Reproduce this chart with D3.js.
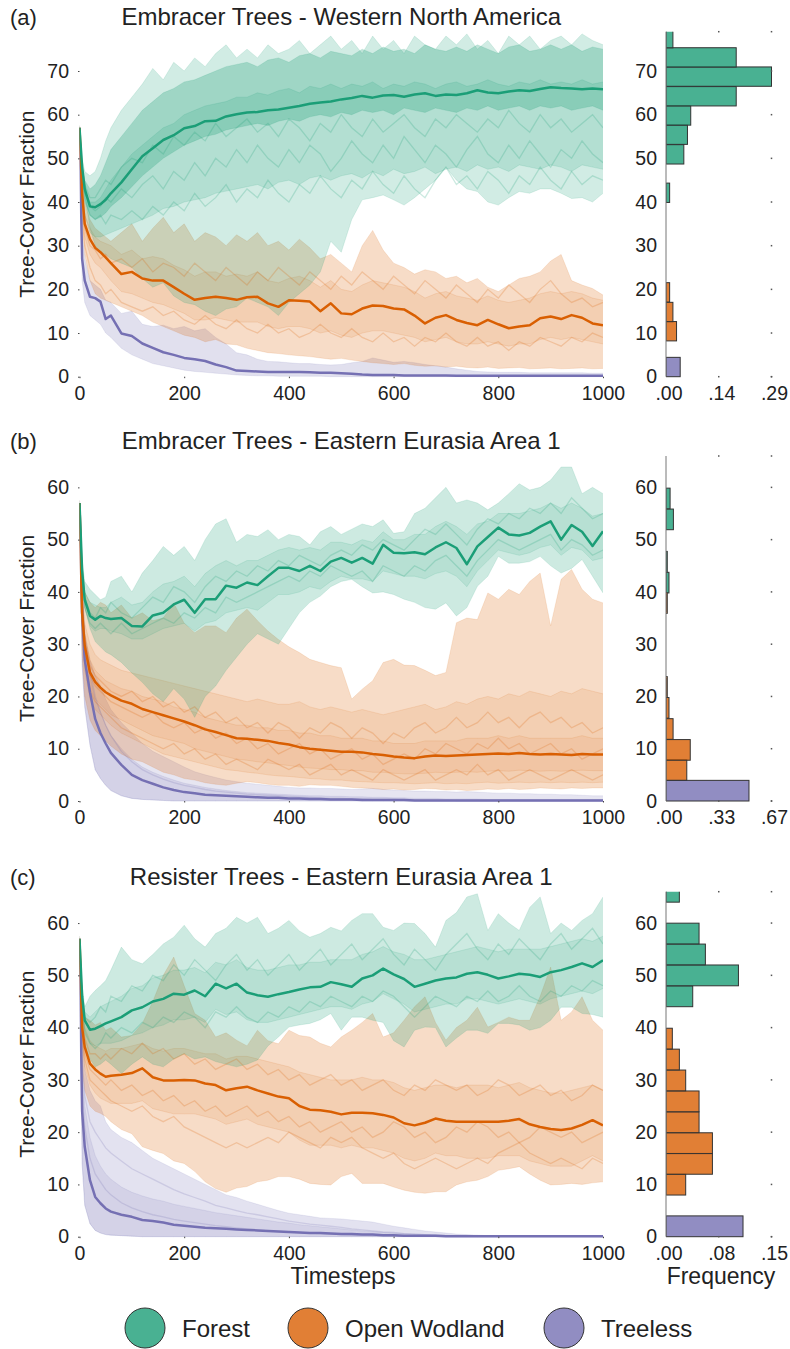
<!DOCTYPE html>
<html>
<head>
<meta charset="utf-8">
<script src="https://cdn.jsdelivr.net/npm/d3@7"></script>
<style>
  body { margin: 0; background: #fff; }
  text { font-family: "Liberation Sans", Arial, sans-serif; fill: #222; }
</style>
</head>
<body>
<svg width="790" height="1349"></svg>
<script>
const steps = [0, 5, 10, 20, 30, 40, 50, 60, 80, 100,
  120, 140, 160, 180, 200, 220, 240, 260, 280, 300,
  320, 340, 360, 380, 400, 420, 440, 460, 480, 500,
  520, 540, 560, 580, 600, 620, 640, 660, 680, 700,
  720, 740, 760, 780, 800, 820, 840, 860, 880, 900,
  920, 940, 960, 980, 1000];

const categories = ['Forest', 'Open Wodland', 'Treeless'];
const xTicks = [0, 200, 400, 600, 800, 1000];

// ---------- (a) Embracer Trees - Western North America ----------
const aForestMean = [57, 48, 43, 39, 38.8, 39.5, 40.5, 42, 44.5, 47.5,
  50.5, 52.3, 54.2, 55.3, 56.9, 57.4, 58.5, 58.6, 59.6, 60.1,
  60.5, 60.6, 61, 61.2, 61.6, 62, 62.5, 62.8, 63, 63.5,
  63.8, 64.3, 63.9, 64.4, 64.5, 64.1, 64.6, 64.9, 64.3, 64.6,
  64.5, 64.9, 65.6, 65.1, 64.9, 65.3, 65.6, 65.4, 65.9, 66.3,
  66.1, 66, 65.8, 66, 65.8];
const aForestOutHi = [57.5, 50, 47, 46, 47, 50, 54, 57, 61, 64,
  67, 70.6, 68, 72, 70, 73, 71, 74, 76, 73,
  75, 73, 76, 74, 75, 77, 74, 76, 78, 75,
  77, 74, 78, 75, 77, 74, 78, 76, 75, 78,
  76, 78.5, 75, 77, 74, 78, 76, 78, 75, 77,
  78, 76, 78.5, 77, 76];
const aForestOutLo = [57, 47, 42, 34, 30, 28.5, 28, 27, 26, 25,
  22.5, 20.5, 21.5, 18.5, 17, 16.5, 15, 14, 15.5, 16,
  18, 17, 16, 14, 17, 19, 21, 24, 31, 28.5,
  36, 40.5, 41, 41.6, 40.5, 39.3, 41, 43, 45, 48,
  45, 43, 42.4, 40, 39.3, 41, 42.4, 42, 43, 43,
  42, 40.8, 41, 40, 42];
const aForestMidHi = [57, 46, 42, 40, 40, 41, 43, 45, 48, 51,
  53, 55, 57, 58, 60, 61, 62, 62.5, 63, 64,
  64, 65, 64.5, 65.5, 66, 65, 66.5, 66, 67, 66,
  67, 66.5, 67.5, 66, 67, 66.5, 67.5, 67, 66, 67,
  67.5, 66.5, 67, 68, 67, 66.5, 67.5, 67, 68, 67,
  67.5, 67, 68, 67, 67.5];
const aForestMidLo = [57, 43, 37, 33, 32, 32, 32.5, 33, 34, 35,
  36, 37, 38.5, 39, 40, 40.5, 41, 42, 42.5, 43,
  43.5, 44, 43, 44.5, 45, 44, 45.5, 46, 45, 46,
  46.5, 45.5, 47, 46, 47.5, 46.5, 47, 48, 46.5, 47.5,
  48, 47, 48.5, 47.5, 48, 47, 48.5, 48, 47.5, 48.5,
  48, 47, 48.5, 48, 47.5];
const aForestCoreHi = [57, 49, 45, 43, 44, 46, 49, 52, 55, 58,
  61, 63, 65, 66, 67.5, 68, 69, 70, 71, 71.5,
  72, 71, 72.5, 73, 72, 73.5, 74, 73, 74.5, 74,
  73.5, 75, 74, 75.5, 74.5, 75, 74, 76, 75, 74.5,
  75.5, 74.5, 76, 75, 74, 75.5, 76, 74.5, 75, 76,
  75, 76, 74.5, 75.5, 75];
const aForestCoreLo = [57, 45, 40, 37, 36, 36.5, 37.5, 39, 41, 43.5,
  46, 48, 50, 51.5, 53, 54, 55, 55.5, 56.5, 57,
  57.5, 58, 57.5, 58.5, 59, 58.5, 59.5, 60, 59.5, 60.5,
  60, 61, 60.5, 61, 60, 61.5, 61, 60.5, 61.5, 61,
  60.5, 61.5, 61, 62, 61, 61.5, 62, 61, 62, 61.5,
  62, 61, 61.5, 62, 61];
// single runs drawn as faint lines
const aForestRun1 = [57, 47, 42, 39, 38, 39, 41, 40, 43, 41,
  44, 46, 43, 47, 45, 49, 46, 50, 48, 52,
  49, 53, 50, 48, 52, 49, 53, 51, 47, 50,
  54, 51, 49, 53, 50, 55, 52, 49, 53, 51,
  48, 52, 55, 51, 49, 53, 50, 54, 51, 48,
  52, 50, 54, 51, 49];
const aForestRun2 = [57, 46, 41, 37, 36, 37, 35, 37, 36, 38,
  36, 39, 37, 40, 38, 42, 39, 41, 44, 40,
  43, 41, 45, 42, 40, 44, 42, 46, 43, 41,
  45, 43, 47, 44, 42, 46, 43, 41, 45, 48,
  44, 46, 43, 47, 45, 42, 46, 44, 48, 45,
  43, 47, 44, 46, 45];
const aForestRun3 = [57, 48, 44, 41, 41, 43, 45, 44, 48, 50,
  49, 53, 51, 55, 53, 56, 54, 58, 55, 57,
  59, 56, 58, 55, 59, 57, 54, 58, 56, 60,
  57, 55, 59, 56, 58, 60, 57, 55, 59, 57,
  60, 58, 56, 59, 57, 61, 58, 56, 60, 57,
  59, 56, 58, 60, 57];

const aOpenMean = [57, 42, 35, 31.5, 29.5, 28.5, 27.3, 26, 23.5, 24,
  22.5, 22, 22, 20.5, 19, 17.6, 18, 18.3, 18, 17.6,
  18.2, 18.3, 16.8, 16, 17.5, 17.4, 17.2, 15, 16.8, 14.5,
  14.3, 15.6, 16.3, 16.2, 15.6, 15.4, 14, 12.2, 13.5, 14.1,
  13, 12.3, 11.8, 13, 12, 11.1, 11.5, 11.8, 13.4, 13.8,
  13.2, 14.1, 13.5, 12.2, 11.8];
const aOpenOutHi = [57.5, 45, 40, 36, 34, 33, 32, 31, 33, 35,
  31, 34, 36.5, 33, 35, 31, 33, 32, 30, 32.5,
  31, 33, 30, 31, 29, 31.5, 29.5, 27, 28, 26,
  24, 30, 33.5, 29, 26, 25, 23.5, 24.5, 24, 22.5,
  23, 21.5, 22.5, 20.5, 19.5, 21, 22.5, 23, 24, 26.5,
  28, 22, 21, 20.2, 18.7];
const aOpenOutLo = [56.5, 35, 28, 22, 19, 18, 17.5, 17, 16, 15,
  14, 12.5, 11.5, 10.5, 9.5, 9, 8, 8.5, 7.5, 7.3,
  6.5, 6, 5.5, 5.3, 5, 4.8, 4.6, 4.3, 4, 4.2,
  3.8, 3.5, 3.2, 3, 2.8, 3, 2.6, 2.4, 2.5, 2.2,
  2.4, 2.1, 2, 2.2, 1.9, 2, 2.1, 1.8, 1.9, 2,
  1.8, 1.9, 2, 1.8, 1.9];
const aOpenInHi = [57, 44, 37, 34, 32, 31, 30.5, 30, 28, 29,
  27, 27.5, 27, 25.5, 24.5, 23, 24, 24, 23, 23.5,
  23, 24, 22, 21.5, 22.5, 23, 22, 20.5, 22, 20,
  19.5, 21, 22, 21.5, 21, 20.5, 19.5, 18, 19, 19.5,
  18.5, 18, 17.5, 18.5, 17.5, 17, 17.5, 18, 19, 19.5,
  19, 19.5, 19, 18, 17.5];
const aOpenInLo = [57, 39, 32, 28, 26, 25, 23.5, 22, 19.5, 19,
  18, 17, 16.5, 15.5, 14.5, 13, 13, 13.5, 13, 12.5,
  12.5, 12.5, 11.5, 11, 11.5, 11.5, 11, 10, 10.5, 9.5,
  9, 10, 10.5, 10.5, 10, 9.5, 9, 8, 8.5, 9,
  8, 7.5, 7.5, 8, 7.5, 7, 7.5, 7.5, 8.5, 9,
  8.5, 9, 8.5, 8, 7.5];
const aOpenRun1 = [57, 40, 34, 30, 29, 27, 28, 26, 27, 25,
  27, 24, 26, 25, 23, 26, 24, 22, 25, 23,
  21, 24, 22, 25, 23, 21, 24, 22, 20, 23,
  21, 24, 22, 20, 23, 21, 19, 22, 20, 18,
  21, 19, 17, 20, 18, 21, 19, 17, 20, 22,
  19, 17, 18, 16, 17];
const aOpenRun2 = [57, 37, 30, 25, 22, 21, 19, 20, 17, 16,
  15, 16, 14, 15, 13, 12, 14, 12, 11, 13,
  11, 10, 12, 10, 11, 9, 10, 12, 10, 9,
  11, 9, 8, 10, 8, 9, 7, 9, 8, 10,
  8, 7, 9, 7, 8, 6, 8, 7, 9, 8,
  7, 9, 8, 10, 9];

const aTreelessMean = [57, 27, 22, 18.3, 18, 17.2, 13.2, 14, 9.9, 9.3,
  7.6, 6.6, 5.6, 5, 4.3, 4, 3.6, 2.8, 2.2, 1.4,
  1.3, 1.2, 1.1, 1.1, 1.1, 1.1, 1, 0.9, 0.9, 0.8,
  0.7, 0.5, 0.4, 0.4, 0.4, 0.3, 0.3, 0.3, 0.3, 0.3,
  0.2, 0.2, 0.2, 0.2, 0.2, 0.2, 0.2, 0.2, 0.2, 0.2,
  0.2, 0.2, 0.2, 0.2, 0.2];
const aTreelessHi = [57.5, 33, 27, 22, 21, 20, 17.5, 17, 14.5, 15,
  12, 11.5, 11.8, 11, 11.5, 10.5, 11, 9, 7.5, 5.5,
  5, 4, 3.5, 3.4, 3.2, 3, 3, 2.8, 2.7, 2.8,
  3.2, 3.5, 4.3, 3.8, 3.3, 3.5, 3.2, 2.8, 2.5, 2.2,
  1.8, 1.5, 1.2, 1.1, 1, 1, 1, 0.9, 0.9, 0.9,
  0.9, 0.9, 0.9, 0.8, 0.8];
const aTreelessLo = [56.5, 22, 17, 14, 13, 12, 10, 9, 6.5, 5,
  4, 3, 2.5, 2, 1.5, 1.2, 1, 0.8, 0.6, 0.4,
  0.3, 0.2, 0.2, 0.1, 0.1, 0.1, 0.1, 0.1, 0, 0,
  0, 0, 0, 0, 0, 0, 0, 0, 0, 0,
  0, 0, 0, 0, 0, 0, 0, 0, 0, 0,
  0, 0, 0, 0, 0];

// histogram (a): bin lower edges and frequencies
const aBinWidth = 4.43;
const aForestBins = [39.9, 48.7, 53.2, 57.6, 62.0, 66.5, 70.9, 75.3];
const aForestFreq = [0.010, 0.049, 0.059, 0.068, 0.193, 0.290, 0.193, 0.019];
const aOpenBins = [8.2, 12.6, 17.1];
const aOpenFreq = [0.029, 0.019, 0.010];
const aTreelessBins = [0];
const aTreelessFreq = [0.039];

// ---------- (b) Embracer Trees - Eastern Eurasia Area 1 ----------
const bForestMean = [57, 44, 38.5, 35.4, 34.7, 35.4, 35, 34.8, 35, 33.5,
  33.4, 35.5, 36, 37.6, 38.5, 36, 38.6, 38.6, 41.2, 40.8,
  41.8, 41.3, 43, 44.6, 44.6, 44, 45, 44, 45.8, 46.5,
  45.6, 46.5, 45.4, 49, 47.5, 47.4, 47.6, 47.2, 48.5, 49.5,
  48.4, 45.3, 48.7, 50.5, 52.3, 51, 50.8, 51.3, 52.5, 53.5,
  50, 52.8, 51.5, 48.8, 51.6];
const bForestOutHi = [57.5, 46, 42, 40.5, 39.5, 38.5, 39, 42, 43, 40,
  43.6, 46, 48.7, 47, 48.7, 46, 50, 53, 54, 49.5,
  51, 50.6, 51.9, 50, 51, 50.6, 49, 51.5, 52.5, 51,
  52, 53, 52.5, 53.8, 51.2, 51.5, 55, 56, 58, 60,
  57, 57.6, 57, 55.7, 57, 58.8, 60.7, 59.5, 60, 61.4,
  63.9, 63.9, 58.8, 60, 58.8];
const bForestOutLo = [56.5, 42, 37, 33, 30.5, 29.5, 28.5, 28, 26.5, 24.5,
  22.7, 20.5, 19, 21.5, 19.5, 16, 20, 22, 25, 27.5,
  30, 32, 31, 30, 33, 36, 38, 39.2, 41, 42,
  42.4, 41, 39.8, 40, 39.5, 38.6, 38, 37, 36.7, 37.9,
  35.4, 37, 41.1, 43, 46.8, 45.5, 45.5, 45.8, 46.8, 45,
  43.6, 44.5, 46.2, 43, 39.8];
const bForestInHi = [57, 45, 40, 38, 37.5, 37, 37, 38, 39, 37.5,
  38, 40, 41.5, 42, 43, 41, 43.5, 45, 46, 45,
  46, 46, 47, 48, 48.5, 48, 48.5, 48, 49.5, 49.5,
  49, 50, 49.5, 51.5, 50, 50, 51, 51, 52.5, 53.5,
  52.5, 51, 53, 53.5, 55, 55, 55, 55.5, 56, 57,
  56, 57, 56, 54.5, 55];
const bForestInLo = [57, 42, 37, 33.5, 32.5, 33, 33, 32.5, 32, 31,
  31, 32, 33, 33.5, 34, 32.5, 34, 34.5, 36, 36.5,
  37, 36.5, 38, 39.5, 39.5, 40, 41, 40.5, 42, 43,
  42.5, 42.5, 42, 44, 43.5, 43, 43, 42.5, 43.5, 44,
  43, 41, 44, 46, 48, 47.5, 47, 47.5, 48.5, 49,
  47, 48.5, 48, 46, 46.5];
const bForestRun1 = [57, 45, 39, 36, 35, 37, 36, 38, 36, 35,
  37, 39, 38, 41, 40, 38, 41, 43, 42, 44,
  43, 45, 44, 46, 45, 47, 46, 45, 47, 48,
  47, 49, 48, 50, 49, 48, 50, 52, 51, 53,
  51, 49, 52, 54, 53, 55, 54, 56, 55, 57,
  55, 58, 56, 54, 55];
const bForestRun2 = [57, 43, 37, 34, 33, 34, 33, 32, 34, 32,
  33, 34, 35, 34, 36, 35, 37, 36, 39, 38,
  39, 40, 41, 42, 43, 42, 44, 43, 45, 44,
  43, 44, 42, 45, 44, 43, 45, 44, 46, 47,
  45, 43, 46, 48, 50, 49, 48, 49, 50, 51,
  48, 50, 49, 47, 48];

const bOpenMean = [57, 36, 29.7, 24.6, 22.8, 21.7, 20.8, 20.2, 19.2, 18.6,
  17.6, 17, 16.4, 15.8, 15.2, 14.5, 13.7, 13.2, 12.6, 12,
  11.9, 11.7, 11.5, 11.1, 10.8, 10.3, 10, 9.8, 9.6, 9.4,
  9.4, 9.3, 9, 8.8, 8.5, 8.3, 8.2, 8.5, 8.7, 8.6,
  8.7, 8.8, 8.9, 9, 9.1, 9, 9.2, 9, 8.9, 9,
  8.9, 8.8, 9, 8.9, 8.9];
const bOpenOutHi = [57.5, 45, 40, 38, 37, 38, 37.5, 36, 37.5, 35,
  36, 34.5, 35, 37.9, 34, 32.2, 33.5, 33.5, 32.2, 35,
  36.7, 34.5, 32.5, 30.9, 29.5, 28.4, 27.1, 26.5, 25.9, 25.5,
  19.5, 21.4, 23, 26.5, 27.1, 26, 25.9, 25, 24, 24.6,
  34.1, 35, 34.7, 39.8, 38.6, 40.5, 39.5, 42, 43.6, 33.5,
  42.4, 44.3, 40.5, 38.6, 37.9];
const bOpenOutLo = [56.5, 28, 20, 15.5, 13.5, 12.5, 11.5, 10.5, 9, 8,
  7.5, 6.5, 5.5, 5, 4.3, 4, 3.5, 3.2, 3, 3.4,
  3.7, 3.5, 3.2, 3, 3, 2.8, 3.1, 3, 3, 2.8,
  2.6, 2.5, 2.4, 2.2, 2.3, 2.1, 2.2, 2.4, 2.3, 2.1,
  2.2, 2, 2.1, 2.3, 2.2, 2.4, 2.2, 2.3, 2.5, 2.4,
  2.3, 2.5, 2.4, 2.5, 2.5];
const bOpenMidHi = [57, 40, 34, 30, 28, 27, 26.5, 26, 25, 24.5,
  24, 23.5, 23, 22.5, 22, 21.5, 21, 20.5, 20, 19.5,
  19, 19.5, 19, 18.5, 18.5, 19, 18, 17.5, 18, 17.5,
  17, 17.5, 17, 16.5, 17, 17.5, 18, 18.5, 17.5, 18,
  19, 18.5, 19.5, 20, 19.5, 20.5, 20, 21, 20.5, 20,
  21, 20.5, 21.5, 21, 20.5];
const bOpenMidLo = [57, 32, 25, 19.5, 17.5, 16.5, 15.5, 14.5, 13, 12,
  11, 10, 9, 8.5, 8, 7.5, 7, 6.5, 6, 5.8,
  5.5, 5.3, 5, 4.8, 4.7, 4.5, 4.3, 4.2, 4, 4,
  3.8, 3.7, 3.6, 3.5, 3.5, 3.4, 3.3, 3.4, 3.5, 3.3,
  3.4, 3.3, 3.5, 3.6, 3.4, 3.5, 3.6, 3.5, 3.6, 3.5,
  3.6, 3.5, 3.6, 3.5, 3.6];
const bOpenCoreHi = [57, 38, 32, 27, 25, 24, 23, 22.5, 21.5, 21,
  20, 19.5, 19, 18, 17.5, 17, 16, 15.5, 15, 14.5,
  14.5, 14, 14, 13.5, 13.5, 13, 13, 12.5, 12.5, 12,
  12, 12, 11.5, 11.5, 11, 11, 11, 11.5, 11.5, 11.5,
  11.5, 12, 12, 12, 12.5, 12, 12.5, 12, 12, 12,
  12, 12, 12.5, 12, 12];
const bOpenCoreLo = [57, 34, 27, 21.5, 19.5, 18.5, 17.5, 16.5, 15.5, 14.5,
  13.5, 12.5, 12, 11.5, 11, 10, 9.5, 9, 8.5, 8,
  7.8, 7.5, 7.3, 7, 6.8, 6.5, 6.3, 6.2, 6, 6,
  5.8, 5.8, 5.5, 5.5, 5.3, 5.2, 5.2, 5.3, 5.5, 5.4,
  5.5, 5.6, 5.5, 5.7, 5.8, 5.7, 5.9, 5.8, 5.7, 5.8,
  5.7, 5.8, 5.9, 5.8, 5.8];
const bOpenRun1 = [57, 38, 31, 26, 24, 23, 22, 21, 20, 21,
  19, 20, 18, 19, 17, 18, 16, 17, 15, 16,
  14, 15, 13, 15, 14, 12, 14, 13, 15, 14,
  12, 14, 13, 11, 13, 12, 14, 15, 13, 14,
  16, 14, 15, 17, 15, 16, 14, 16, 17, 15,
  16, 14, 15, 13, 14];
const bOpenRun2 = [57, 34, 27, 21, 19, 18, 17, 16, 14, 13,
  12, 11, 10, 11, 9, 10, 8, 9, 7, 8,
  7, 6, 8, 7, 6, 7, 5, 6, 7, 5,
  6, 5, 4, 6, 5, 4, 5, 6, 4, 5,
  6, 5, 7, 5, 6, 4, 5, 6, 5, 4,
  5, 6, 5, 4, 5];
const bOpenRun3 = [57, 36, 29, 24, 22, 21, 20, 19, 18, 17,
  16, 17, 15, 14, 15, 13, 14, 12, 13, 11,
  12, 10, 11, 9, 10, 11, 9, 10, 8, 9,
  10, 8, 9, 7, 8, 9, 8, 10, 9, 11,
  10, 9, 11, 10, 12, 10, 11, 9, 10, 11,
  9, 10, 8, 9, 10];

const bTreelessMean = [57, 36, 27, 20.8, 15.7, 13, 11, 9.2, 6.9, 5,
  4, 3.3, 2.6, 2.1, 1.7, 1.5, 1.2, 1.1, 1, 0.9,
  0.8, 0.7, 0.6, 0.6, 0.5, 0.5, 0.4, 0.4, 0.3, 0.3,
  0.3, 0.2, 0.2, 0.2, 0.2, 0.2, 0.1, 0.1, 0.1, 0.1,
  0.1, 0.1, 0.1, 0.1, 0.1, 0.1, 0.1, 0.1, 0.1, 0.1,
  0.1, 0.1, 0.1, 0.1, 0.1];
const bTreelessHi = [57.5, 42, 32, 27, 24, 22, 19.5, 17.5, 15, 13,
  11, 9.5, 8.5, 7.5, 6.5, 5.6, 5, 4.5, 4, 3.7,
  3.4, 3.2, 3, 2.8, 2.6, 2.5, 2.5, 2.4, 2.4, 2.3,
  2.2, 2.3, 2.4, 2.2, 2.1, 2, 1.9, 1.9, 1.8, 1.8,
  1.7, 1.8, 1.7, 1.6, 1.5, 1.5, 1.4, 1.4, 1.3, 1.3,
  1.2, 1.2, 1.1, 1, 1];
const bTreelessInHi = [57, 39, 30, 24, 19.5, 17, 14.5, 12.5, 10, 8,
  6.5, 5.5, 4.7, 4, 3.4, 3, 2.6, 2.3, 2, 1.8,
  1.6, 1.5, 1.4, 1.3, 1.2, 1.1, 1, 1, 0.9, 0.9,
  0.8, 0.8, 0.7, 0.7, 0.6, 0.6, 0.5, 0.5, 0.5, 0.4,
  0.4, 0.4, 0.4, 0.3, 0.3, 0.3, 0.3, 0.3, 0.3, 0.3,
  0.3, 0.3, 0.3, 0.3, 0.3];
const bTreelessLo = [56.5, 26, 18, 10.7, 6, 4.3, 3, 2, 1, 0.5,
  0.3, 0.2, 0.1, 0, 0, 0, 0, 0, 0, 0,
  0, 0, 0, 0, 0, 0, 0, 0, 0, 0,
  0, 0, 0, 0, 0, 0, 0, 0, 0, 0,
  0, 0, 0, 0, 0, 0, 0, 0, 0, 0,
  0, 0, 0, 0, 0];
const bTreelessRun1 = [57, 40, 31, 25, 20, 17, 14.5, 12.5, 9.5, 7.5,
  6, 5, 4.2, 3.5, 3, 2.6, 2.2, 1.9, 1.7, 1.5,
  1.3, 1.2, 1.1, 1, 0.9, 0.8, 0.7, 0.6, 0.5, 0.5,
  0.4, 0.4, 0.3, 0.3, 0.3, 0.2, 0.2, 0.2, 0.2, 0.2,
  0.1, 0.1, 0.1, 0.1, 0.1, 0.1, 0.1, 0.1, 0.1, 0.1,
  0.1, 0.1, 0.1, 0.1, 0.1];

const bBinWidth = 3.95;
const bForestBins = [39.8, 43.8, 51.9, 55.9];
const bForestFreq = [0.019, 0.008, 0.047, 0.026];
const bOpenBins = [3.94, 7.8, 11.8, 15.85, 19.85, 35.9];
const bOpenFreq = [0.132, 0.154, 0.045, 0.019, 0.008, 0.008];
const bTreelessBins = [0];
const bTreelessFreq = [0.527];

// ---------- (c) Resister Trees - Eastern Eurasia Area 1 ----------
const cForestMean = [57, 46, 41.4, 39.6, 39.8, 40.3, 40.8, 41.2, 42, 43.3,
  43.9, 45, 45.5, 46.5, 46.3, 47.1, 46, 48.4, 47.5, 48.4,
  46.7, 46.2, 45.9, 46.4, 46.8, 47.3, 47.7, 47.8, 48.7, 48.3,
  47.8, 49.4, 50, 51.3, 50.2, 49.3, 47.8, 48.4, 49, 49.4,
  49.6, 50.3, 50.6, 50.1, 49.4, 49.8, 50.3, 50.1, 49.7, 50.6,
  51, 51.6, 52.3, 51.6, 52.9];
const cForestHi = [57.5, 48, 44, 46, 47.1, 48, 49, 51, 55.4, 53,
  52.2, 54, 56, 57.3, 59.6, 57, 55.4, 58, 59, 61.1,
  60, 61.1, 58, 59, 60.5, 58.5, 57.3, 58, 59.2, 58.5,
  60.5, 61.8, 61.8, 59.2, 58.6, 60, 59.9, 58, 55.4, 60.5,
  62, 65, 65.6, 58.6, 61.8, 60, 58.6, 63, 65, 58,
  60, 58.6, 60.5, 61.8, 65];
const cForestLo = [56.5, 42, 36.3, 34, 32.5, 33, 33.8, 33, 31.2, 33,
  34.4, 33, 32.5, 34, 35, 34, 34.4, 33.5, 33, 32.5,
  33, 33.8, 36.5, 38.2, 40.1, 40.5, 40.8, 41.5, 42.7, 39.5,
  42, 42, 41.4, 41, 37.5, 36.3, 39.5, 40.1, 40, 36.3,
  38, 39.5, 39.5, 38.9, 40.8, 40.8, 40.5, 39.5, 40, 41.4,
  43.9, 43.9, 42.7, 42.5, 42];
const cForestInHi = [57, 47, 43, 42, 43, 44, 44.5, 45, 46, 47.5,
  48, 49.5, 50, 51, 51, 51.5, 50.5, 52.5, 52, 53,
  51.5, 51, 51, 51.5, 52, 52, 52.5, 52.5, 53, 53,
  53, 54, 54.5, 55.5, 54.5, 54, 53, 53, 53.5, 54,
  54.5, 55, 55.5, 55, 54.5, 55, 55, 55, 55, 55.5,
  56, 56.5, 57, 56.5, 57.5];
const cForestInLo = [57, 44, 39.5, 37, 36.5, 37, 37, 37, 37.5, 38.5,
  39, 40, 40.5, 41.5, 41.5, 42, 41, 43.5, 42.5, 43,
  41.5, 41, 41, 41.5, 42, 42.5, 43, 43.5, 44, 44,
  43.5, 44.5, 45, 46.5, 45.5, 44.5, 43, 43.5, 44, 44.5,
  44.5, 45.5, 45.5, 45, 44.5, 45, 45.5, 45, 44.5, 45.5,
  46, 46.5, 47, 46.5, 47.5];
const cForestRun1 = [57, 46, 42, 41, 42, 44, 43, 46, 45, 48,
  47, 50, 49, 52, 50, 53, 51, 49, 52, 54,
  51, 53, 50, 52, 54, 51, 53, 55, 52, 54,
  56, 53, 55, 57, 54, 52, 55, 53, 51, 54,
  56, 58, 55, 53, 56, 54, 57, 55, 53, 56,
  58, 55, 57, 59, 56];
const cForestRun2 = [57, 44, 39, 37, 36, 37, 39, 38, 40, 39,
  41, 40, 42, 41, 43, 42, 40, 43, 42, 44,
  42, 41, 43, 42, 44, 43, 45, 44, 46, 45,
  44, 46, 45, 47, 46, 44, 42, 44, 46, 45,
  44, 46, 45, 47, 45, 46, 48, 46, 45, 47,
  46, 48, 47, 49, 48];

const cOpenMean = [57, 40, 36.3, 33.1, 32, 31.2, 30.6, 30.8, 31, 31.3,
  32.2, 30.5, 29.9, 29.9, 30, 29.9, 29.3, 29, 28, 28.4,
  28.7, 28, 27.4, 26.8, 26.5, 25, 24.3, 24.2, 23.9, 23.4,
  23.7, 23.7, 23.6, 23.3, 22.8, 21.7, 21.3, 21.8, 22.6, 22.2,
  22, 22, 22, 22, 22, 22.2, 22.5, 21.5, 21, 20.6,
  20.4, 20.7, 21.4, 22.3, 21.3];
const cOpenHi = [57.5, 46, 42, 41.4, 40.5, 41, 39.5, 40, 38.2, 38.5,
  40.8, 45, 50, 53.5, 48, 42.7, 41.4, 38.2, 39, 37.6,
  36.5, 39.5, 37.5, 36.9, 39.5, 38.5, 38.2, 37, 36.3, 38.2,
  39.5, 41, 42.7, 38.2, 39, 41.4, 44, 45.9, 41, 37.6,
  40, 41.4, 43.9, 40.1, 41, 42, 41.4, 41.4, 46, 51.6,
  41.4, 43, 45.9, 41.4, 39.5];
const cOpenLo = [56.5, 32, 28, 25, 24, 23.6, 23, 22, 20.5, 19.7,
  17.2, 16.5, 15.9, 14.5, 14, 12.5, 10.5, 9.2, 8.5, 9.3,
  9.6, 10.5, 10.8, 11.5, 11.5, 11, 10.2, 10, 9.9, 11.5,
  12.1, 10.2, 10.2, 10.2, 9.5, 8.9, 8.5, 8.3, 8.6, 8.6,
  9.9, 10.5, 10.8, 11.5, 12.7, 13, 13.4, 12, 10.8, 9.9,
  10, 10.2, 10, 10.3, 10.5];
const cOpenInHi = [57, 43, 40, 37.5, 36.5, 36, 35.5, 36, 36, 36.5,
  37, 36, 35.5, 36, 36, 35.5, 35, 35, 34, 34.5,
  34.5, 34, 33.5, 33, 32.5, 31.5, 31, 30.5, 30, 30,
  30, 30.5, 30, 30, 29.5, 28.5, 28, 28.5, 29, 29,
  28.5, 29, 29, 29, 28.5, 29, 29.5, 28.5, 28, 27.5,
  27.5, 28, 28.5, 29, 28];
const cOpenInLo = [57, 37, 32.5, 29, 27.5, 26.5, 26, 25.5, 25.5, 25.5,
  26, 24.5, 24, 23.5, 23.5, 23.5, 23, 22.5, 21.5, 22,
  22.5, 21.5, 21, 20.5, 20, 18.5, 17.5, 17.5, 17.5, 17,
  17.5, 17, 17, 16.5, 16, 15, 14.5, 15, 16, 15.5,
  15.5, 15, 15, 15, 15.5, 15.5, 15.5, 14.5, 14, 13.5,
  13.5, 13.5, 14.5, 15.5, 14.5];
const cOpenRun1 = [57, 42, 38, 35, 35, 34, 35, 34, 36, 35,
  37, 35, 36, 34, 35, 33, 34, 32, 33, 34,
  32, 33, 31, 32, 30, 31, 29, 30, 31, 29,
  30, 28, 29, 30, 28, 27, 29, 28, 30, 29,
  28, 29, 27, 28, 30, 29, 27, 28, 29, 27,
  28, 26, 27, 29, 28];
const cOpenRun2 = [57, 38, 34, 30, 29, 28, 27, 26, 25, 24,
  25, 23, 22, 23, 21, 20, 19, 18, 17, 18,
  17, 18, 19, 18, 20, 19, 18, 17, 19, 18,
  19, 17, 16, 15, 16, 14, 13, 14, 15, 14,
  13, 14, 15, 14, 16, 17, 18, 16, 15, 14,
  15, 14, 13, 15, 14];
const cOpenRun3 = [57, 40, 35, 32, 31, 30, 29, 30, 28, 29,
  27, 28, 26, 27, 25, 26, 24, 25, 23, 24,
  25, 23, 24, 22, 23, 21, 22, 20, 21, 22,
  20, 21, 19, 20, 22, 21, 19, 20, 18, 19,
  21, 20, 22, 21, 19, 20, 18, 19, 21, 20,
  19, 20, 18, 19, 20];

const cTreelessMean = [57, 24, 17.2, 10.8, 7.6, 6.4, 5.4, 4.8, 4.2, 3.8,
  3.2, 3, 2.7, 2.3, 2.1, 1.9, 1.7, 1.6, 1.5, 1.4,
  1.3, 1.2, 1.1, 1, 0.9, 0.8, 0.7, 0.7, 0.6, 0.5,
  0.5, 0.4, 0.4, 0.3, 0.3, 0.2, 0.2, 0.2, 0.2, 0.1,
  0.1, 0.1, 0.1, 0.1, 0.1, 0.1, 0.1, 0.1, 0.1, 0.1,
  0.1, 0.1, 0.1, 0.1, 0.1];
const cTreelessHi = [57.5, 40, 32, 28, 26, 25, 22, 20.5, 19, 18,
  16.5, 15, 14, 13, 12, 11, 10, 9, 8, 7.5,
  6.8, 6.2, 5.6, 5, 4.5, 4.2, 3.9, 3.6, 3.5, 3.4,
  3.2, 3, 2.8, 2.4, 2, 1.7, 1.4, 1.1, 0.9, 0.7,
  0.5, 0.4, 0.3, 0.2, 0.2, 0.1, 0.1, 0.1, 0.1, 0.1,
  0.1, 0.1, 0.1, 0.1, 0.1];
const cTreelessInHi = [57, 32, 25, 19, 15.5, 13.5, 12, 11, 9.5, 8.5,
  7.8, 7.2, 6.8, 6.2, 5.8, 5.4, 5, 4.6, 4.3, 4,
  3.7, 3.4, 3.1, 2.8, 2.6, 2.3, 2.1, 1.9, 1.7, 1.5,
  1.3, 1.1, 1, 0.8, 0.7, 0.6, 0.5, 0.4, 0.3, 0.3,
  0.2, 0.2, 0.2, 0.2, 0.2, 0.2, 0.2, 0.2, 0.2, 0.2,
  0.2, 0.2, 0.2, 0.2, 0.2];
const cTreelessLo = [56.5, 14, 6, 2.5, 1.2, 0.7, 0.4, 0.3, 0.2, 0.1,
  0, 0, 0, 0, 0, 0, 0, 0, 0, 0,
  0, 0, 0, 0, 0, 0, 0, 0, 0, 0,
  0, 0, 0, 0, 0, 0, 0, 0, 0, 0,
  0, 0, 0, 0, 0, 0, 0, 0, 0, 0,
  0, 0, 0, 0, 0];
const cTreelessRun1 = [57, 34, 27, 22, 20, 18.5, 17, 16, 14.5, 13,
  12, 11, 10, 9, 8.2, 7.5, 6.8, 6, 5.5, 5,
  4.5, 4.2, 3.8, 3.4, 3, 2.7, 2.4, 2.2, 2, 1.8,
  1.5, 1.3, 1.1, 0.9, 0.8, 0.6, 0.5, 0.4, 0.3, 0.2,
  0.2, 0.1, 0.1, 0.1, 0.1, 0.1, 0.1, 0.1, 0.1, 0.1,
  0.1, 0.1, 0.1, 0.1, 0.1];
const cTreelessRun2 = [57, 28, 21, 15, 12, 10.5, 9, 8, 6.5, 5.5,
  4.8, 4.2, 3.8, 3.3, 3, 2.7, 2.4, 2.1, 1.9, 1.7,
  1.5, 1.3, 1.1, 1, 0.9, 0.8, 0.7, 0.6, 0.5, 0.4,
  0.3, 0.3, 0.2, 0.2, 0.2, 0.1, 0.1, 0.1, 0.1, 0.1,
  0.1, 0.1, 0.1, 0.1, 0.1, 0.1, 0.1, 0.1, 0.1, 0.1,
  0.1, 0.1, 0.1, 0.1, 0.1];

const cBinWidth = 3.98;
const cForestBins = [44, 48, 52, 56, 64];
const cForestFreq = [0.038, 0.103, 0.056, 0.047, 0.019];
const cOpenBins = [7.97, 11.95, 15.9, 19.9, 23.9, 27.9, 31.9, 35.9];
const cOpenFreq = [0.028, 0.066, 0.066, 0.047, 0.047, 0.028, 0.019, 0.009];
const cTreelessBins = [0];
const cTreelessFreq = [0.1095];

const colForest = '#1b9e77', colOpen = '#d95f02', colTreeless = '#7570b3';
const colors = [colForest, colOpen, colTreeless];

const panels = [
  { tag: '(a)', title: 'Embracer Trees - Western North America', bottom: 376.7, yMax: 79,
    yTicks: [0, 10, 20, 30, 40, 50, 60, 70], freqMax: 0.29, freqLabels: ['.00', '.14', '.29'],
    bands: [[aTreelessLo, aTreelessHi, colTreeless, 0.22],
            [aOpenOutLo, aOpenOutHi, colOpen, 0.22], [aOpenInLo, aOpenInHi, colOpen, 0.1],
            [aForestOutLo, aForestOutHi, colForest, 0.2], [aForestMidLo, aForestMidHi, colForest, 0.16],
            [aForestCoreLo, aForestCoreHi, colForest, 0.28]],
    runs: [[aOpenRun1, colOpen], [aOpenRun2, colOpen],
           [aForestRun1, colForest], [aForestRun2, colForest], [aForestRun3, colForest]],
    means: [[aTreelessMean, colTreeless], [aOpenMean, colOpen], [aForestMean, colForest]],
    binW: aBinWidth,
    hist: [[aForestBins, aForestFreq, colForest], [aOpenBins, aOpenFreq, colOpen], [aTreelessBins, aTreelessFreq, colTreeless]] },
  { tag: '(b)', title: 'Embracer Trees - Eastern Eurasia Area 1', bottom: 801, yMax: 66,
    yTicks: [0, 10, 20, 30, 40, 50, 60], freqMax: 0.67, freqLabels: ['.00', '.33', '.67'],
    bands: [[bTreelessLo, bTreelessHi, colTreeless, 0.18], [bTreelessLo, bTreelessInHi, colTreeless, 0.16],
            [bOpenOutLo, bOpenOutHi, colOpen, 0.22], [bOpenMidLo, bOpenMidHi, colOpen, 0.1],
            [bOpenCoreLo, bOpenCoreHi, colOpen, 0.08],
            [bForestOutLo, bForestOutHi, colForest, 0.22], [bForestInLo, bForestInHi, colForest, 0.12]],
    runs: [[bTreelessRun1, colTreeless], [bOpenRun1, colOpen], [bOpenRun2, colOpen], [bOpenRun3, colOpen],
           [bForestRun1, colForest], [bForestRun2, colForest]],
    means: [[bTreelessMean, colTreeless], [bOpenMean, colOpen], [bForestMean, colForest]],
    binW: bBinWidth,
    hist: [[bForestBins, bForestFreq, colForest], [bOpenBins, bOpenFreq, colOpen], [bTreelessBins, bTreelessFreq, colTreeless]] },
  { tag: '(c)', title: 'Resister Trees - Eastern Eurasia Area 1', bottom: 1236.7, yMax: 66,
    yTicks: [0, 10, 20, 30, 40, 50, 60], freqMax: 0.15, freqLabels: ['.00', '.08', '.15'],
    bands: [[cTreelessLo, cTreelessHi, colTreeless, 0.2], [cTreelessLo, cTreelessInHi, colTreeless, 0.14],
            [cOpenLo, cOpenHi, colOpen, 0.22], [cOpenInLo, cOpenInHi, colOpen, 0.1],
            [cForestLo, cForestHi, colForest, 0.22], [cForestInLo, cForestInHi, colForest, 0.12]],
    runs: [[cTreelessRun1, colTreeless], [cTreelessRun2, colTreeless],
           [cOpenRun1, colOpen], [cOpenRun2, colOpen], [cOpenRun3, colOpen],
           [cForestRun1, colForest], [cForestRun2, colForest]],
    means: [[cTreelessMean, colTreeless], [cOpenMean, colOpen], [cForestMean, colForest]],
    binW: cBinWidth,
    hist: [[cForestBins, cForestFreq, colForest], [cOpenBins, cOpenFreq, colOpen], [cTreelessBins, cTreelessFreq, colTreeless]] }
];

const svg = d3.select('svg');
const plotH = 345;
const x = d3.scaleLinear().domain([0, 1000]).range([79.5, 603]);
const hx0 = 666, hx1 = 771.5;

panels.forEach((p, pi) => {
  const top = p.bottom - plotH;
  const y = d3.scaleLinear().domain([0, p.yMax]).range([p.bottom, top]);
  const fx = d3.scaleLinear().domain([0, p.freqMax]).range([hx0, hx1]);

  svg.append('clipPath').attr('id', 'clip' + pi)
    .append('rect').attr('x', 79.5).attr('y', top).attr('width', 603 - 79.5).attr('height', plotH + 2);
  svg.append('clipPath').attr('id', 'hclip' + pi)
    .append('rect').attr('x', hx0).attr('y', top).attr('width', 200).attr('height', plotH + 2);

  const g = svg.append('g').attr('clip-path', `url(#clip${pi})`);

  const area = d3.area().x(d => x(d[0])).y0(d => y(d[1])).y1(d => y(d[2]));
  const line = d3.line().x(d => x(d[0])).y(d => y(d[1]));

  p.bands.forEach(([lo, hi, c, op]) => {
    const rows = steps.map((t, i) => [t, lo[i], hi[i]]);
    g.append('path').datum(rows).attr('d', area)
      .attr('fill', c).attr('fill-opacity', op);
    [lo, hi].forEach(arr => {
      g.append('path').datum(steps.map((t, i) => [t, arr[i]])).attr('d', line)
        .attr('fill', 'none').attr('stroke', c).attr('stroke-opacity', 0.12).attr('stroke-width', 1);
    });
  });

  p.runs.forEach(([r, c]) => {
    g.append('path').datum(steps.map((t, i) => [t, r[i]])).attr('d', line)
      .attr('fill', 'none').attr('stroke', c).attr('stroke-opacity', 0.22).attr('stroke-width', 1.3);
  });

  p.means.forEach(([m, c]) => {
    g.append('path').datum(steps.map((t, i) => [t, m[i]])).attr('d', line)
      .attr('fill', 'none').attr('stroke', c).attr('stroke-width', 2.5)
      .attr('stroke-linejoin', 'round');
  });

  // axes of main plot
  const yAxis = svg.append('g').attr('transform', 'translate(79.5,0)')
    .call(d3.axisLeft(y).tickValues(p.yTicks).tickSize(1.5).tickPadding(9).tickFormat(d3.format('d')));
  const xAxis = svg.append('g').attr('transform', `translate(0,${p.bottom})`)
    .call(d3.axisBottom(x).tickValues(xTicks).tickSize(1.5).tickPadding(8).tickFormat(d3.format('d')));
  [yAxis, xAxis].forEach(a => {
    a.select('.domain').remove();
    a.selectAll('.tick line').attr('stroke', '#444');
    a.selectAll('text').style('font-size', '19.5px').attr('fill', '#222');
  });

  // titles
  svg.append('text').attr('x', 10).attr('y', top - 7).style('font-size', '22px').text(p.tag);
  svg.append('text').attr('x', (79.5 + 603) / 2).attr('y', top - 7).attr('text-anchor', 'middle')
    .style('font-size', '24px').text(p.title);
  svg.append('text').attr('transform', `translate(34,${(top + p.bottom) / 2}) rotate(-90)`)
    .attr('text-anchor', 'middle').style('font-size', '21px').text('Tree-Cover Fraction');

  // histogram
  const hg = svg.append('g').attr('clip-path', `url(#hclip${pi})`);
  p.hist.forEach(([bins, freq, c]) => {
    hg.selectAll(null).data(bins.map((b, i) => [b, freq[i]])).enter().append('rect')
      .attr('x', hx0)
      .attr('y', d => y(d[0] + p.binW))
      .attr('width', d => fx(d[1]) - hx0)
      .attr('height', d => y(d[0]) - y(d[0] + p.binW))
      .attr('fill', c).attr('fill-opacity', 0.8)
      .attr('stroke', '#333').attr('stroke-width', 1);
  });
  svg.append('line').attr('x1', hx0).attr('x2', hx0).attr('y1', top).attr('y2', p.bottom)
    .attr('stroke', '#777').attr('stroke-width', 1);

  const hyAxis = svg.append('g').attr('transform', `translate(${hx0},0)`)
    .call(d3.axisLeft(y).tickValues(p.yTicks).tickSize(0).tickPadding(9).tickFormat(d3.format('d')));
  hyAxis.select('.domain').remove();
  hyAxis.selectAll('text').style('font-size', '19.5px').attr('fill', '#222');

  const fTicks = [0, p.freqMax / 2, p.freqMax];
  svg.append('g').selectAll('text').data(fTicks).enter().append('text')
    .attr('x', d => fx(d) + 3).attr('y', p.bottom + 23).attr('text-anchor', 'middle')
    .style('font-size', '19.5px').text((d, i) => p.freqLabels[i]);

  // small frame dots of the histogram panel
  const dots = [];
  p.yTicks.forEach(v => dots.push([hx1, y(v)]));
  [fx(p.freqMax / 2), hx1].forEach(xx => { dots.push([xx, top]); dots.push([xx, p.bottom]); });
  svg.append('g').selectAll('rect').data(dots).enter().append('rect')
    .attr('x', d => d[0] - 0.75).attr('y', d => d[1] - 0.75)
    .attr('width', 1.5).attr('height', 1.5).attr('fill', '#555');
});

// axis titles at the bottom
svg.append('text').attr('x', 343).attr('y', 1284).attr('text-anchor', 'middle')
  .style('font-size', '23px').text('Timesteps');
svg.append('text').attr('x', 721).attr('y', 1284).attr('text-anchor', 'middle')
  .style('font-size', '23px').text('Frequency');

// legend
const legendX = [145, 308, 564];
const lg = svg.append('g');
categories.forEach((name, i) => {
  lg.append('circle').attr('cx', legendX[i]).attr('cy', 1328).attr('r', 20)
    .attr('fill', colors[i]).attr('fill-opacity', 0.8).attr('stroke', '#333').attr('stroke-width', 1);
  lg.append('text').attr('x', legendX[i] + 37).attr('y', 1337)
    .style('font-size', '24px').text(name);
});
</script>
</body>
</html>
